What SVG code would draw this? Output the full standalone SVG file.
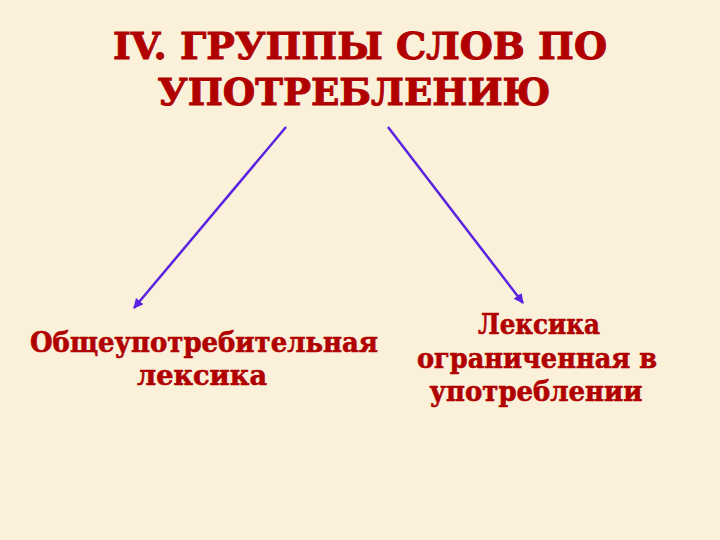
<svg xmlns="http://www.w3.org/2000/svg" width="720" height="540" viewBox="0 0 720 540">
<defs>
<style>
.t{font-family:"DejaVu Serif","Liberation Serif",serif;font-weight:bold;fill:#B00000;stroke:#B00000;text-anchor:middle}
.title{font-size:38px;stroke-width:1}
.lbl{font-size:27px;stroke-width:0.6}
.con{stroke:#5A22E0;stroke-width:2.5;fill:none;marker-end:url(#ah)}
</style>
<marker id="ah" viewBox="0 0 10 10" refX="9" refY="5" markerWidth="4" markerHeight="4" orient="auto">
<path d="M0,0 L10,5 L0,10 z" fill="#5A22E0"/>
</marker>
</defs>
<rect width="720" height="540" fill="#FBF0D9"/>
<g id="title">
<text class="t title" x="360" y="59" textLength="494" lengthAdjust="spacingAndGlyphs">IV. ГРУППЫ СЛОВ ПО</text>
<text class="t title" x="354" y="105" textLength="393" lengthAdjust="spacingAndGlyphs">УПОТРЕБЛЕНИЮ</text>
</g>
<g id="connectors">
<line class="con" x1="286" y1="127" x2="134" y2="308"/>
<line class="con" x1="388" y1="127" x2="523" y2="303"/>
</g>
<g id="node-left">
<text class="t lbl" x="204" y="352" textLength="348" lengthAdjust="spacingAndGlyphs">Общеупотребительная</text>
<text class="t lbl" x="202" y="385" textLength="130" lengthAdjust="spacingAndGlyphs">лексика</text>
</g>
<g id="node-right">
<text class="t lbl" x="539" y="334" textLength="122" lengthAdjust="spacingAndGlyphs">Лексика</text>
<text class="t lbl" x="537" y="368" textLength="240" lengthAdjust="spacingAndGlyphs">ограниченная в</text>
<text class="t lbl" x="536" y="401" textLength="213" lengthAdjust="spacingAndGlyphs">употреблении</text>
</g>
</svg>
